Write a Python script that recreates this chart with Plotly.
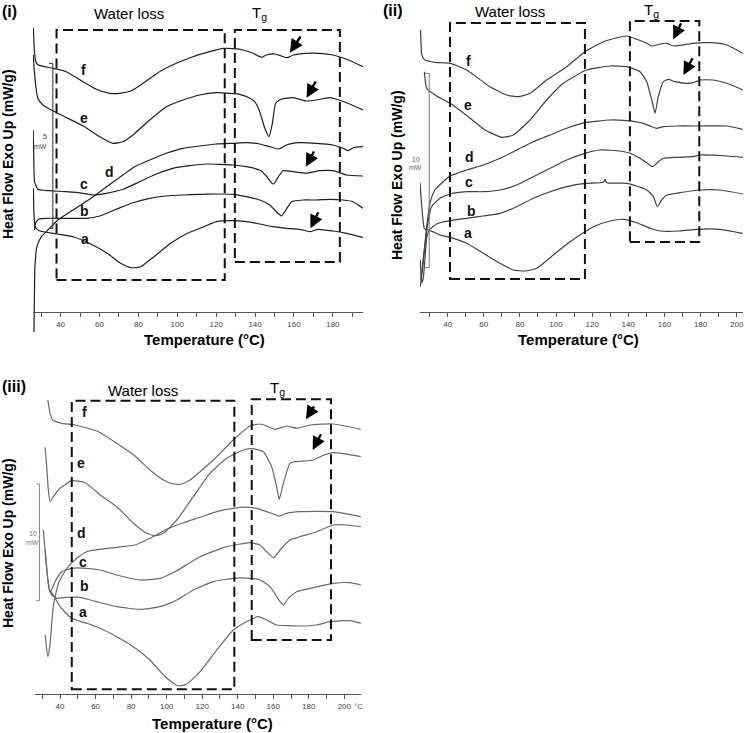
import plotly.graph_objects as go

W, H = 745, 733          # picture size

# ================= DATA (temperature °C, heat flow in arbitrary offset units) =================
# ---- panel (i) ----
p1_f_T = [26.0, 26.5, 27.3, 28.5, 36.1, 42.9, 51.5, 58.4, 65.2, 70.4, 76.4, 82.4, 90.9, 99.5, 108.1, 116.7, 123.5, 128.7, 133.8, 139.0, 143.3, 145.8, 150.1, 153.6, 156.5, 159.6, 166.4, 173.3, 180.1, 187.0, 195.5]
p1_f_Q = [284, 262, 250, 247, 243.7, 240.3, 230.3, 222.7, 218.7, 218.7, 221.3, 228.7, 240.3, 248.7, 255.3, 260.3, 263.7, 263.3, 262, 258.7, 254.7, 257, 258, 256, 254.3, 257, 258.7, 258.7, 257, 252.7, 245.3]
p1_e_T = [26.0, 26.3, 28.3, 30.9, 35.2, 42.1, 52.3, 60.1, 66.9, 72.1, 77.2, 85.8, 94.4, 103.0, 111.5, 120.1, 127.0, 132.1, 136.4, 139.8, 142.4, 145.0, 147.2, 148.9, 150.6, 153.6, 159.6, 166.4, 171.6, 178.4, 187.0, 195.5]
p1_e_Q = [257, 245, 213.7, 207, 202, 195.3, 185.3, 175.3, 168.7, 170.3, 177, 192, 205.3, 212, 217, 219.3, 218.7, 217.7, 214.7, 210.3, 200.3, 183.7, 175.3, 188.7, 208.7, 213, 214.3, 211, 212, 214.3, 209.3, 202]
p1_d_T = [26.3, 26.5, 26.8, 27.8, 30.1, 33.5, 38.6, 47.2, 55.8, 66.1, 78.1, 85.8, 94.4, 103.0, 111.5, 120.1, 128.7, 135.5, 142.4, 147.5, 152.3, 156.1, 163.0, 171.6, 180.1, 185.3, 187.9, 190.4, 195.5]
p1_d_Q = [-20, 12, 45.3, 65.3, 75.3, 82, 92, 103, 114, 128.7, 145.3, 152, 158.7, 163.7, 166, 168, 168.7, 169.3, 168, 165.3, 163, 167, 169.3, 168.7, 167, 163.7, 161.3, 164.3, 165.3]
p1_c_T = [25.9, 26.2, 26.6, 28.3, 34.3, 42.9, 51.5, 56.6, 63.5, 72.1, 80.7, 89.2, 97.8, 106.4, 115.0, 121.8, 128.7, 135.5, 142.4, 145.8, 148.4, 149.6, 151.8, 154.4, 159.6, 166.4, 173.3, 180.1, 187.0, 195.5]
p1_c_Q = [182, 155.3, 130.3, 122.7, 121.3, 120.3, 118.7, 117, 118.7, 122.7, 130.3, 138, 143.7, 146.3, 148, 147.7, 147, 145.3, 142, 136, 129.3, 128, 134.7, 141.3, 140.3, 138.7, 141.3, 141.3, 137, 136]
p1_b_T = [26.5, 27.1, 28.9, 31.8, 42.9, 53.2, 60.1, 68.6, 77.2, 85.8, 94.4, 103.0, 111.5, 120.1, 128.7, 135.5, 142.4, 147.5, 151.8, 153.6, 155.8, 158.8, 164.7, 171.6, 178.4, 185.3, 190.4, 195.5]
p1_b_Q = [82, 88.7, 93, 93.7, 93.7, 93.7, 96, 102.7, 109.3, 113.7, 116, 117, 117.7, 118, 117.7, 115.3, 112, 107, 98.7, 96, 102, 110.3, 112, 112, 112.7, 112, 110.3, 103.7]
p1_a_T = [26.0, 26.3, 26.9, 29.0, 38.4, 46.9, 55.5, 64.0, 70.9, 76.0, 81.2, 88.0, 96.6, 105.2, 113.7, 120.1, 128.7, 135.5, 142.4, 149.3, 156.1, 163.0, 168.1, 172.4, 180.1, 187.0, 195.5]
p1_a_Q = [123.7, 98.7, 85.3, 81.3, 78, 75, 68, 58.7, 48.7, 44.3, 45.3, 55.3, 68.7, 78.7, 85.3, 90.3, 91.3, 90.3, 88, 85.3, 83.7, 82.7, 80.3, 82.7, 81, 78.7, 74.7]

# ---- panel (ii) ----
p2_f_T = [25.0, 25.6, 26.5, 27.4, 33.0, 41.3, 50.5, 63.4, 72.7, 79.1, 85.6, 94.8, 105.9, 116.0, 126.2, 139.1, 144.7, 150.2, 153.0, 157.6, 161.3, 165.0, 176.0, 185.3, 194.5, 203.4]
p2_f_Q = [282, 258.7, 253.7, 252, 249.7, 248.7, 242, 225.3, 217, 215.3, 218.7, 232, 245.3, 260.3, 270.3, 276, 272.7, 268.7, 266, 268, 268.7, 266, 268.7, 269.3, 267, 258.7]
p2_e_T = [27.1, 28.4, 33.0, 41.3, 51.4, 60.7, 69.9, 76.4, 85.6, 94.8, 104.0, 116.9, 129.9, 139.1, 146.5, 150.2, 153.0, 154.8, 156.6, 159.4, 162.2, 165.9, 172.3, 176.0, 179.7, 187.1, 194.5, 203.4]
p2_e_Q = [240.3, 223.7, 217, 208.7, 195.3, 182, 174.7, 177, 192, 212, 228.7, 242, 246, 245.3, 240.3, 230.3, 212, 198.7, 215.3, 230.3, 232.7, 230.3, 228.7, 229.3, 232, 232, 228.7, 222]
p2_d_T = [24.9, 26.2, 28.0, 30.2, 33.0, 41.3, 50.5, 59.7, 69.0, 78.2, 87.4, 96.7, 105.9, 116.0, 129.9, 139.1, 148.3, 153.0, 155.7, 159.4, 166.8, 179.7, 194.5, 203.4]
p2_d_Q = [25.3, 45.3, 78.7, 108.7, 122, 136, 142, 147, 153.7, 162, 170.3, 177, 183.7, 189.3, 192, 191.3, 188.7, 185.3, 183.7, 185.3, 186, 186, 186, 182.7]
p2_c_T = [25.2, 26.9, 28.7, 31.1, 35.8, 41.3, 50.5, 59.7, 69.0, 78.2, 87.4, 96.7, 105.9, 116.0, 124.3, 135.4, 141.0, 146.5, 151.1, 153.5, 155.7, 159.4, 166.8, 176.0, 179.7, 194.5, 203.4]
p2_c_Q = [32, 58.7, 85.3, 105.3, 113.7, 118, 120.3, 120.3, 122, 127, 135.3, 143.7, 152, 158.7, 162, 161, 158.7, 153.7, 148, 145.3, 148.7, 153.7, 154.7, 155.3, 157, 156, 154.7]
p2_b_T = [24.7, 26.0, 27.1, 29.3, 33.9, 41.3, 50.5, 59.7, 69.0, 78.2, 87.4, 96.7, 105.9, 116.0, 126.2, 127.1, 128.0, 139.1, 144.7, 150.2, 153.9, 156.1, 158.5, 161.3, 168.6, 179.7, 190.8, 203.4]
p2_b_Q = [129.3, 98.7, 83.7, 82, 88, 91.3, 93.7, 96, 98.7, 105.3, 113.7, 120.3, 125.3, 128.7, 129.7, 132.7, 129.3, 128.7, 126, 122, 115.3, 105.3, 112, 117, 119.3, 122, 122, 118]
p2_a_T = [24.9, 25.6, 26.5, 28.4, 29.8, 35.8, 41.3, 50.5, 59.7, 69.0, 76.4, 82.8, 89.3, 98.5, 107.7, 120.7, 129.9, 137.3, 144.7, 152.0, 157.6, 168.6, 177.9, 190.8, 203.4]
p2_a_Q = [52, 29.3, 33.7, 73.7, 81.3, 77, 74.7, 68.7, 58.7, 48.7, 42, 41, 43.7, 57, 70.3, 85.3, 91, 92.7, 89.3, 83.7, 81, 81, 82.7, 82.7, 78.7]

# ---- panel (iii) ----
p3_f_T = [33.1, 34.4, 35.9, 40.9, 48.4, 61.6, 71.9, 82.2, 90.6, 98.2, 103.8, 108.5, 113.2, 118.8, 128.2, 137.5, 146.9, 152.5, 156.3, 161.0, 167.6, 173.2, 180.7, 193.8, 209.3]
p3_f_Q = [294, 280.7, 274, 270.7, 269, 262.3, 250.7, 238, 224, 214, 210, 210, 214, 222.3, 237.3, 254, 268, 270, 268, 264.7, 268, 265.7, 269, 270, 264.7]
p3_e_T = [31.6, 32.5, 33.4, 34.4, 36.2, 40.0, 46.6, 54.1, 63.4, 71.9, 81.3, 88.8, 93.5, 98.2, 105.7, 115.0, 124.4, 133.8, 143.2, 148.8, 154.4, 159.1, 161.9, 163.4, 165.7, 169.4, 172.2, 182.6, 186.3, 193.8, 209.3]
p3_e_Q = [246.7, 227.3, 204, 192.3, 197.3, 205.7, 213.3, 211.3, 198, 187.3, 170.7, 160.7, 158.3, 160.7, 174, 197.3, 220.7, 235.7, 244, 245.3, 242.3, 227.3, 207.3, 194.7, 210.7, 230.7, 232.3, 234, 237.3, 241.3, 237.3]
p3_d_T = [31.6, 33.1, 34.4, 36.2, 39.1, 43.8, 49.4, 55.0, 62.5, 71.9, 82.2, 90.6, 100.0, 109.4, 118.8, 128.2, 137.5, 146.9, 152.5, 159.1, 163.4, 167.6, 175.1, 193.8, 209.3]
p3_d_Q = [59, 37.3, 50.7, 87.3, 110.7, 125.7, 135.7, 142.3, 144.7, 146.7, 149, 155.7, 164.7, 171.3, 176.7, 182.3, 185.7, 186.7, 184.7, 180.7, 178, 180.7, 182.3, 182.3, 177.3]
p3_c_T = [30.6, 32.1, 33.4, 34.7, 37.2, 40.9, 46.6, 55.0, 62.5, 71.9, 85.0, 96.3, 105.7, 118.8, 133.8, 146.9, 152.5, 156.3, 160.4, 163.8, 169.4, 175.1, 184.4, 193.8, 201.3, 209.3]
p3_c_Q = [164, 134, 110.7, 102.3, 112.3, 122.3, 125.7, 125.7, 124, 119, 114, 115.7, 123.3, 137.3, 147.3, 151.3, 149, 142.3, 136.3, 144, 154, 157.3, 162.3, 169, 169, 167.3]
p3_b_T = [31.6, 32.9, 34.0, 35.3, 38.1, 43.8, 51.3, 60.6, 71.9, 85.0, 96.3, 105.7, 115.0, 126.3, 137.5, 146.9, 152.5, 158.2, 162.9, 165.7, 168.5, 173.2, 180.7, 193.8, 203.2, 209.3]
p3_b_Q = [144, 117.3, 104, 99, 95.7, 96.7, 96.7, 92.3, 87.3, 84.7, 87.3, 94, 104, 112.3, 115.7, 115.7, 114, 107.3, 94.7, 89, 95.7, 102.3, 105.7, 110.7, 111.3, 109]
p3_a_T = [34.0, 36.2, 40.0, 46.6, 55.0, 62.5, 71.9, 81.3, 90.6, 98.2, 103.8, 106.6, 111.3, 118.8, 128.2, 137.5, 145.0, 151.6, 156.3, 161.9, 167.6, 175.1, 184.4, 191.9, 203.2, 209.3]
p3_a_Q = [104, 99, 87.3, 75.7, 70.7, 65.7, 57.3, 47.3, 34, 19, 10.7, 8, 10, 22.3, 44, 64, 72.3, 77.3, 74, 69, 68.3, 68, 69, 72.3, 73.3, 70.7]

# curve label positions (T, Q)
p1_labels = {"f": (51.8, 242), "e": (51.8, 194), "d": (65.2, 140), "c": (51.8, 128), "b": (52.3, 101), "a": (52.3, 73)}
p2_labels = {"f": (51.4, 251), "e": (51.0, 207), "d": (52.0, 155), "c": (52.0, 130), "b": (53.3, 101), "a": (51.4, 79)}
p3_labels = {"f": (53.5, 282), "e": (52.0, 231), "d": (52.0, 161), "c": (53.0, 132), "b": (53.5, 108), "a": (53.0, 82)}

# dashed regions [T0, T1, Q0, Q1]
p1_water = [37.9, 124.4, 32, 282]
p1_tg = [129.6, 183.6, 50, 282]
p2_water = [41.3, 116.0, 33, 289]
p2_tg = [140.9, 179.3, 70, 291]
p3_water = [46.6, 138.1, 4.7, 293.3]
p3_tg = [147.9, 192.5, 54, 294.7]

# Tg arrows: (tip T, tip Q, tail T, tail Q)
p1_arrows = [(157.9, 259.3, 163.9, 277), (166.5, 214.3, 171.6, 232), (166.1, 145.3, 170.7, 162), (168.5, 83.7, 172.9, 101.3)]
p2_arrows = [(164.9, 272.7, 169.6, 290.3), (170.5, 237, 176.0, 255.3)]
p3_arrows = [(178.4, 274.7, 183.5, 289), (182.2, 244, 187.3, 261.3)]

# scale bars: (T bar, T tick end, Q low, Q high)
p1_scale = (36.0, 34.0, 83.7, 248.7)
p2_scale = (29.8, 27.4, 44.3, 238.7)
p3_scale = (28.4, 26.5, 93.3, 210.0)

# ================= FIGURE =================
fig = go.Figure()
FONT = "Liberation Sans, Arial, sans-serif"
SMALL = "Liberation Sans Narrow, Liberation Sans, sans-serif"

panels = [
    dict(xa="x", ya="y", color="#1e1e1e",
         curves=[(p1_f_T, p1_f_Q), (p1_e_T, p1_e_Q), (p1_d_T, p1_d_Q), (p1_c_T, p1_c_Q), (p1_b_T, p1_b_Q), (p1_a_T, p1_a_Q)],
         labels=p1_labels, boxes=[p1_water, p1_tg], arrows=p1_arrows, scale=p1_scale, scolor="#333"),
    dict(xa="x2", ya="y2", color="#404040",
         curves=[(p2_f_T, p2_f_Q), (p2_e_T, p2_e_Q), (p2_d_T, p2_d_Q), (p2_c_T, p2_c_Q), (p2_b_T, p2_b_Q), (p2_a_T, p2_a_Q)],
         labels=p2_labels, boxes=[p2_water, p2_tg], arrows=p2_arrows, scale=p2_scale, scolor="#777"),
    dict(xa="x3", ya="y3", color="#6a6a6a",
         curves=[(p3_f_T, p3_f_Q), (p3_e_T, p3_e_Q), (p3_d_T, p3_d_Q), (p3_c_T, p3_c_Q), (p3_b_T, p3_b_Q), (p3_a_T, p3_a_Q)],
         labels=p3_labels, boxes=[p3_water, p3_tg], arrows=p3_arrows, scale=p3_scale, scolor="#888"),
]

shapes = []
annotations = []
for p in panels:
    for T, Q in p["curves"]:
        fig.add_trace(go.Scatter(x=T, y=Q, mode="lines", xaxis=p["xa"], yaxis=p["ya"],
                                 line=dict(color=p["color"], width=1.2, shape="spline", smoothing=0.5),
                                 showlegend=False, hoverinfo="skip"))
    for name, (t, q) in p["labels"].items():
        annotations.append(dict(x=t, y=q, xref=p["xa"], yref=p["ya"], text="<b>%s</b>" % name,
                                showarrow=False, font=dict(family=FONT, size=14, color="#111")))
    for b in p["boxes"]:
        shapes.append(dict(type="rect", xref=p["xa"], yref=p["ya"], x0=b[0], x1=b[1], y0=b[2], y1=b[3],
                           line=dict(color="#111", width=2, dash="10px,5px"), fillcolor="rgba(0,0,0,0)"))
    for tx, tq, ax, aq in p["arrows"]:
        annotations.append(dict(x=tx, y=tq, ax=ax, ay=aq, xref=p["xa"], yref=p["ya"], axref=p["xa"], ayref=p["ya"],
                                text="", showarrow=True, arrowhead=2, arrowsize=1.1, arrowwidth=2.4, arrowcolor="#000"))
    sx, st, q0, q1 = p["scale"]
    sl = dict(color=p["scolor"], width=1)
    shapes.append(dict(type="line", xref=p["xa"], yref=p["ya"], x0=sx, x1=sx, y0=q0, y1=q1, line=sl))
    shapes.append(dict(type="line", xref=p["xa"], yref=p["ya"], x0=st, x1=sx, y0=q0, y1=q0, line=sl))
    shapes.append(dict(type="line", xref=p["xa"], yref=p["ya"], x0=st, x1=sx, y0=q1, y1=q1, line=sl))


def X(px):
    return px / W


def Y(py):
    return 1 - py / H


def txt(px, py, s, size, angle=0, color="#000", xanchor="center", family=FONT):
    annotations.append(dict(x=X(px), y=Y(py), xref="paper", yref="paper", text=s, showarrow=False,
                            textangle=angle, xanchor=xanchor, yanchor="middle",
                            font=dict(family=family, size=size, color=color)))


# panel letters
txt(0, 12, "<b>(i)</b>", 16, xanchor="left")
txt(381, 11, "<b>(ii)</b>", 16, xanchor="left")
txt(0, 386, "<b>(iii)</b>", 16, xanchor="left")
# region titles
txt(129, 13, "Water loss", 15)
txt(510, 12, "Water loss", 15)
txt(143, 390, "Water loss", 15)
txt(259, 13, "T<sub>g</sub>", 15)
txt(651, 10, "T<sub>g</sub>", 15)
txt(277, 388, "T<sub>g</sub>", 15)
# axis titles
ytitle = "<b>Heat Flow Exo Up (mW/g)</b>"
txt(8, 154, ytitle, 14, angle=-90)
txt(397, 175, ytitle, 14, angle=-90)
txt(8, 543, ytitle, 14, angle=-90)
xtitle = "<b>Temperature (°C)</b>"
txt(204, 339, xtitle, 15)
txt(578, 339, xtitle, 15)
txt(212, 723, xtitle, 15)
# scale bar labels
txt(45, 136, "5", 7, color="#444", family=SMALL)
txt(40, 146, "mW", 7, color="#444", family=SMALL)
txt(416, 160, "10", 7, color="#666", family=SMALL)
txt(415, 168, "mW", 7, color="#666", family=SMALL)
txt(33, 533, "10", 7, color="#777", family=SMALL)
txt(32, 542, "mW", 7, color="#777", family=SMALL)
txt(358, 706, "°C", 8, color="#555", family=SMALL)


def xaxis_cfg(domain, rng, pos):
    return dict(domain=domain, range=rng, anchor="free", position=pos, showline=True, linecolor="#555",
                linewidth=1, ticks="outside", ticklen=4, tickcolor="#555", tickwidth=1,
                tickmode="linear", tick0=40, dtick=20,
                minor=dict(ticks="outside", ticklen=4, tickcolor="#555", tickmode="linear", tick0=30, dtick=10,
                           showgrid=False),
                tickfont=dict(family=SMALL, size=8, color="#444"),
                showgrid=False, zeroline=False, fixedrange=True)


def yaxis_cfg(domain, rng, anchor):
    return dict(domain=domain, range=rng, visible=False, anchor=anchor, showgrid=False, zeroline=False,
                fixedrange=True)


fig.update_layout(
    width=W, height=H, margin=dict(l=0, r=0, t=0, b=0),
    paper_bgcolor="white", plot_bgcolor="white", showlegend=False,
    xaxis=xaxis_cfg([X(33), X(363)], [25.8, 195.5], Y(312)),
    yaxis=yaxis_cfg([Y(335), Y(20)], [-23, 292], "x"),
    xaxis2=xaxis_cfg([X(420), X(743)], [24.7, 203.5], Y(312)),
    yaxis2=yaxis_cfg([Y(335), Y(20)], [-23, 292], "x2"),
    xaxis3=xaxis_cfg([X(35), X(361)], [25.9, 209.4], Y(694)),
    yaxis3=yaxis_cfg([Y(700), Y(385)], [-6, 309], "x3"),
    shapes=shapes, annotations=annotations,
)

fig.write_html("out.html", config={"displayModeBar": False},
               post_script="document.body.style.margin='0';document.body.style.overflow='hidden';")
